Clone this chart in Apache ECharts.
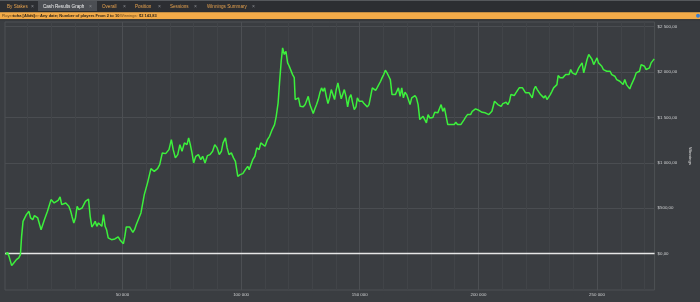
<!DOCTYPE html>
<html><head><meta charset="utf-8">
<script src="https://cdn.jsdelivr.net/npm/echarts@6/dist/echarts.min.js"></script>
<style>html,body{margin:0;padding:0;background:#393c40;overflow:hidden}#c{width:700px;height:302px;}</style>
</head><body><div id="c"></div>
<script>
// ---- data (hands played vs cumulative winnings, $) ----
const hands = [
800,1500,2200,3300,4200,5300,6300,7000,7500,8100,8800,9500,10600,11300,12200,12900,13600,14300,15000,15700,
16400,17100,17800,18400,19200,19900,20500,21200,21900,22900,23700,24400,25100,26100,26700,27400,28200,28800,29500,30200,
30900,31600,32300,33000,33700,34400,35000,35700,36400,37100,37800,38500,39200,39900,40600,41300,42000,42700,43300,44000,
44700,45400,46100,46800,47500,48200,48900,49500,50400,51000,51600,52300,53000,53700,54400,55100,55800,
56500,57800,59200,60600,62000,63400,64800,65700,66800,68200,69600,70600,71400,72300,73300,74200,75100,76100,77200,77900,
78600,79300,80000,80900,82000,83000,83800,84800,85800,86900,88000,88900,89900,90800,91700,92400,93400,94100,94900,95900,
96800,97600,98600,99600,100700,101800,102800,103400,104100,104900,105800,106600,107600,108300,109200,110100,111100,112000,113100,114100,
114800,115600,116200,116900,117500,118200,118900,119600,120300,121000,121700,122400,
122800,123500,124200,124900,125600,126200,127000,127700,128300,129000,129700,130400,131100,131800,132500,133200,133900,134500,135200,135900,
136600,137300,138000,138700,139400,140100,140800,141500,142200,142800,143500,144200,144900,145600,146300,147000,147700,148400,149000,149800,
150500,151100,151800,152500,153200,153900,154600,155300,156000,156700,157300,158000,158800,159400,160100,160800,161500,162200,162900,163600,
164300,165000,165600,166300,167000,167700,168400,169100,169800,170500,171200,171900,172600,173300,173900,174600,175300,176000,176700,177400,
178100,178800,179500,180100,180800,
181600,182200,182900,183600,184300,185000,185700,186400,187100,187800,188400,189100,189800,190500,191200,191900,192600,193300,194000,194700,
195400,196100,196700,197400,198100,198800,199500,200200,200900,201600,202300,202900,203700,204400,205000,205700,206400,206800,207500,208200,
208900,209600,210300,211000,211700,212400,213100,213700,214400,215100,215800,216500,217200,217900,218600,219300,219900,220700,221400,222000,
222700,223400,224100,224800,225500,226200,226900,227600,228200,228900,229600,230300,231000,231700,232400,233100,233600,234500,
234700,235500,236100,236800,237500,238200,238900,239600,240300,241000,241700,242300,243000,243700,244400,245100,245800,246500,247200,247900,
248600,249300,250000,250600,251300,252000,252700,253400,254100,254800,255500,256200,256800,257500,258300,258900,259600,260300,261000,261700,
262400,263100,263800,264500,265100,265800,266500,267200,267900,268600,269300,270000,270700,271400,272100,272800,273400,274100
];
const winnings = [
-11,14,-30,-132,-102,-66,-47,-11,190,356,374,430,466,393,374,419,411,393,374,264,
246,374,393,466,466,595,613,558,576,587,624,540,540,558,576,521,466,404,338,393,
521,485,477,503,540,576,595,602,411,294,319,356,301,338,319,301,430,301,264,173,
190,154,146,162,154,184,154,173,110,190,294,272,294,272,235,264,319,
319,448,650,782,936,906,936,980,1109,1101,1145,1256,1145,1054,1090,1200,1127,1219,1200,1274,
1200,1109,999,1072,1090,1035,1072,999,1079,1090,1127,1200,1164,1090,1127,1219,1274,1164,1090,1109,
1054,1017,851,870,881,925,961,925,944,1035,1072,1164,1145,1219,1200,1182,1256,1292,1366,1421,
1512,1660,1880,2118,2265,2192,2228,2100,2063,2081,1971,1938,
1696,1677,1715,1622,1641,1616,1641,1660,1732,1641,1622,1542,1594,1641,1696,1770,1825,1787,1825,1732,
1652,1715,1806,1751,1696,1806,1880,1787,1704,1751,1806,1732,1616,1715,1751,1660,1586,1616,1715,1677,
1660,1677,1652,1660,1616,1641,1732,1825,1806,1798,1825,1843,1898,1935,1971,2019,1990,1953,1916,1751,
1740,1751,1770,1825,1732,1825,1715,1776,1751,1696,1641,1715,1696,1740,1715,1641,1476,1457,1512,1476,
1439,1531,1494,1512,1498,
1556,1550,1550,1564,1641,1567,1605,1586,1421,1410,1421,1432,1421,1446,1421,1432,1421,1439,1476,1506,
1531,1542,1531,1567,1586,1594,1594,1578,1567,1556,1567,1550,1567,1531,1550,1567,1586,1677,1660,1641,
1660,1622,1652,1641,1666,1641,1677,1751,1770,1740,1770,1751,1825,1806,1825,1814,1770,1787,1770,1751,
1715,1806,1843,1806,1787,1751,1732,1715,1740,1696,1715,1751,1787,1825,1825,1861,1960,1935,
1916,1935,1953,1971,1990,1971,2026,1990,2008,1971,2008,2045,2026,2100,1990,2063,2137,2192,2166,2137,
2081,2118,2155,2100,2118,2063,2026,2045,2008,2026,2008,1971,1990,1953,1916,1935,1898,1916,1861,1916,
1861,1843,1814,1861,1861,1935,1990,1990,2008,2081,2100,2063,2026,2045,2045,2100,2118,2143.83
];
const yTickValues = [0, 500, 1000, 1500, 2000, 2500];
const xLabelValues = [50000, 100000, 150000, 200000, 250000];
const xGridValues = [10000,20000,30000,40000,50000,60000,70000,80000,90000,100000,110000,120000,130000,140000,
  150000,160000,170000,180000,190000,200000,210000,220000,230000,240000,250000,260000,270000];
const tabNames = ['By Stakes', 'Cash Results Graph', 'Overall', 'Position', 'Sessions', 'Winnings Summary'];
const filterParts = [
  ['Player:', false], ['toha [Alias]', true], ['Filter:', false],
  ['Any date; Number of players From 2 to 10', true], ['Winnings:', false], ['$2 143,83', true]
];

const FONT = '"Liberation Sans", Arial, sans-serif';
function grp(n) { return String(n).replace(/\B(?=(\d{3})+(?!\d))/g, ' '); }
function money(v) { return (v < 0 ? '-$' : '$') + grp(Math.abs(v)) + ',00'; }

const seriesData = hands.map((h, i) => [h, winnings[i]]);

// header graphics
const tabTextX = [7, 43, 102, 135, 170, 207];
const tabCloseX = [31, 89, 123, 158, 194, 252];
const graphics = [
  { type: 'rect', shape: { x: 0, y: 0, width: 700, height: 11 }, style: { fill: '#2c2e32' }, silent: true },
  { type: 'rect', shape: { x: 0, y: 0, width: 700, height: 1 }, style: { fill: '#55585c' }, silent: true },
  { type: 'rect', shape: { x: 38, y: 1, width: 59, height: 10 }, style: { fill: '#4b4e53' }, silent: true },
  { type: 'rect', shape: { x: 0, y: 11, width: 700, height: 1.3 }, style: { fill: '#2a2c2f' }, silent: true },
  { type: 'rect', shape: { x: 0, y: 12.3, width: 700, height: 7 }, style: { fill: '#f2aa48' }, silent: true },
  { type: 'rect', shape: { x: 0, y: 19.3, width: 700, height: 1 }, style: { fill: '#2e3034' }, silent: true },
  { type: 'circle', shape: { cx: 698, cy: 15.8, r: 2 }, style: { fill: '#3b7fd0' }, silent: true }
];
tabNames.forEach((t, i) => {
  graphics.push({ type: 'text', silent: true, style: { text: t, x: tabTextX[i], y: 6.3, verticalAlign: 'middle',
    fill: i === 1 ? '#f0f0f0' : '#e6a24e', font: '4.6px ' + FONT } });
  graphics.push({ type: 'text', silent: true, style: { text: '×', x: tabCloseX[i], y: 6.3, verticalAlign: 'middle',
    fill: '#8a8d91', font: '5px ' + FONT } });
});
const filterX = [1.7, 13, 30, 40, 120, 139];
filterParts.forEach((p, i) => {
  graphics.push({ type: 'text', silent: true, style: { text: p[0], x: filterX[i], y: 15.9, verticalAlign: 'middle',
    fill: p[1] ? '#2a2218' : '#6b4a1e', font: (p[1] ? 'bold ' : '') + '4px ' + FONT } });
});

const chart = echarts.init(document.getElementById('c'), null, { renderer: 'canvas' });
chart.setOption({
  animation: false,
  backgroundColor: '#3a3d41',
  graphic: graphics,
  grid: { left: 5, right: 35, top: 22, bottom: 12, show: true, borderColor: '#4d5054', borderWidth: 1, backgroundColor: 'transparent' },
  xAxis: {
    type: 'value', min: 500, max: 274250,
    axisLine: { show: false },
    axisTick: { show: false, customValues: xGridValues },
    axisLabel: { customValues: xLabelValues, formatter: v => grp(v), color: '#cfd0d2', fontSize: 4.4, margin: 3, fontFamily: FONT },
    splitLine: { show: true, lineStyle: { color: ['#414448', '#414448', '#414448', '#414448', '#4c4f53'], width: 1 } }
  },
  yAxis: {
    type: 'value', position: 'right', min: -400, max: 2550,
    name: 'Winnings', nameLocation: 'middle', nameGap: 27, nameRotate: -90,
    nameTextStyle: { color: '#d8d8d8', fontSize: 4.4, fontFamily: FONT },
    axisLine: { show: false },
    axisTick: { show: false, customValues: yTickValues },
    axisLabel: { customValues: yTickValues, formatter: v => money(v), color: '#cfd0d2', fontSize: 4.4, margin: 3, fontFamily: FONT },
    splitLine: { show: true, lineStyle: { color: '#4a4d51', width: 1 } }
  },
  series: [{
    type: 'line', data: seriesData, showSymbol: false, symbol: 'none',
    lineStyle: { color: '#3cf03c', width: 1.5 },
    z: 3,
    markLine: {
      silent: true, symbol: ['none', 'none'], label: { show: false },
      lineStyle: { color: '#e6e6e6', width: 1.3, type: 'solid' },
      data: [{ yAxis: 0 }], z: 2
    }
  }]
});
</script>
</body></html>
